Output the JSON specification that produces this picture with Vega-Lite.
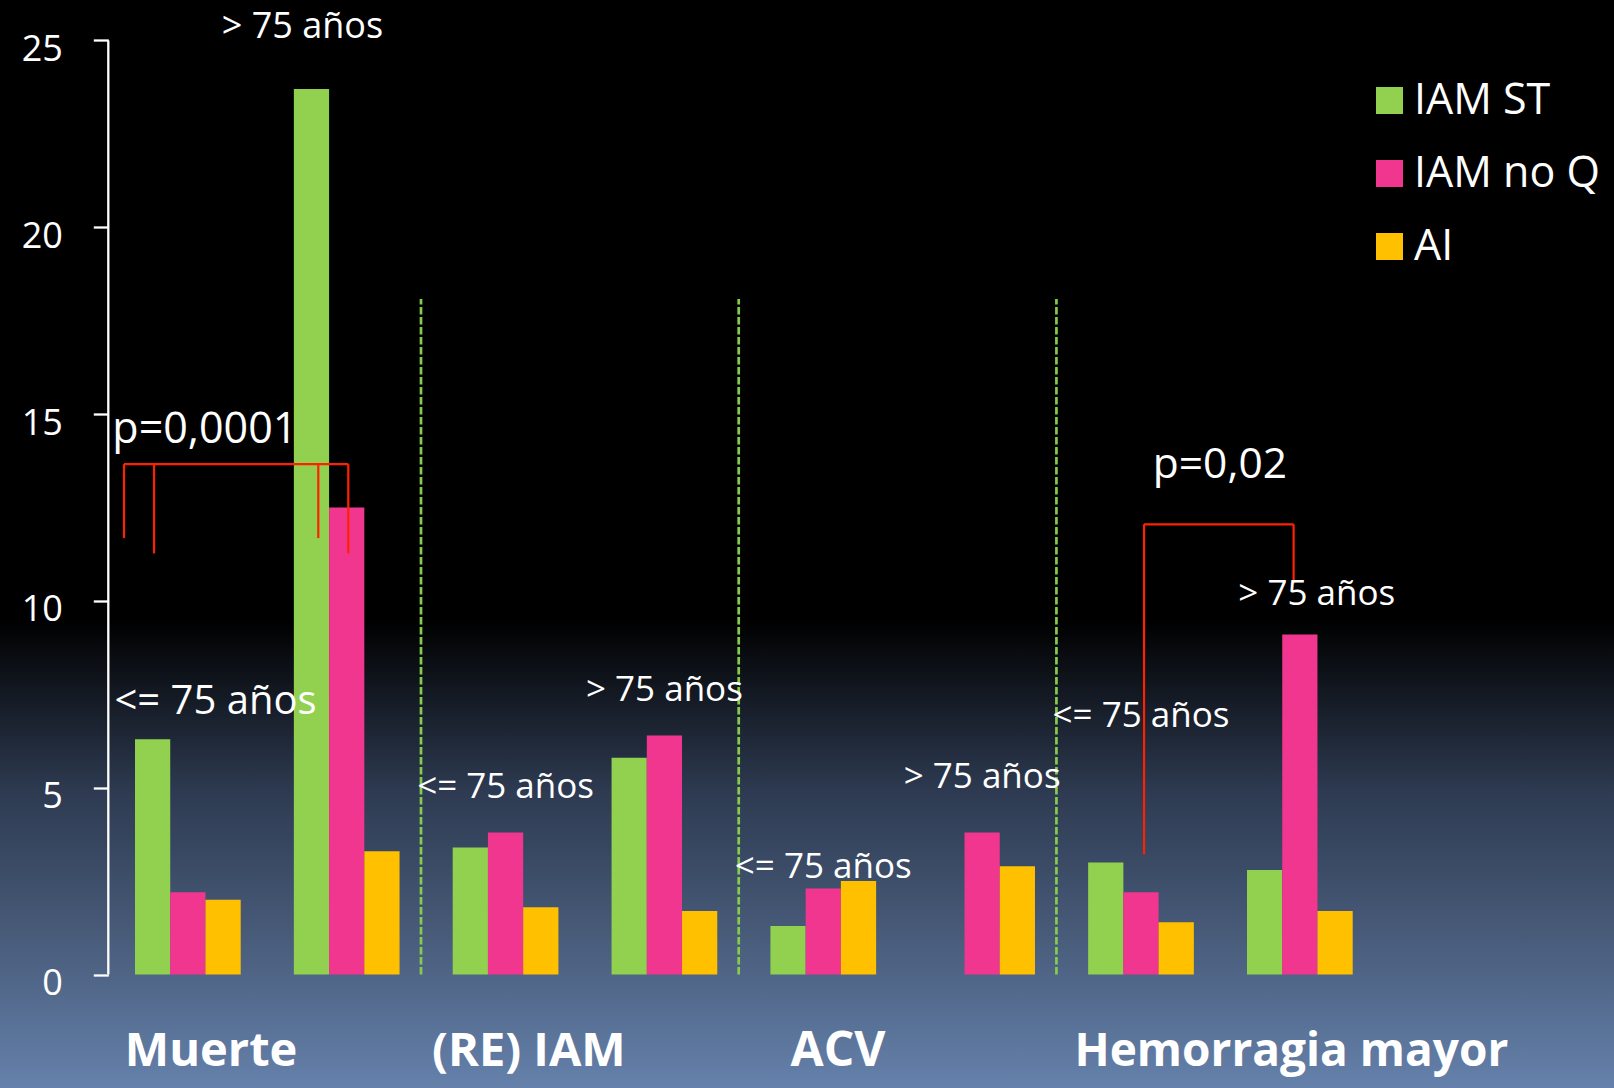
{
  "$schema": "https://vega.github.io/schema/vega-lite/v6.json",
  "width": 1614,
  "height": 1088,
  "autosize": {"type": "none"},
  "padding": 0,
  "background": "#000000",
  "config": {
    "view": {"stroke": null},
    "axisX": {"disable": true},
    "text": {"font": "Open Sans", "color": "#FFFFFF", "baseline": "alphabetic"}
  },
  "datasets": {
    "barras": [
      {"grupo": "Muerte ≤75", "serie": "IAM ST", "valor": 6.3},
      {"grupo": "Muerte ≤75", "serie": "IAM no Q", "valor": 2.2},
      {"grupo": "Muerte ≤75", "serie": "AI", "valor": 2.0},
      {"grupo": "Muerte >75", "serie": "IAM ST", "valor": 23.7},
      {"grupo": "Muerte >75", "serie": "IAM no Q", "valor": 12.5},
      {"grupo": "Muerte >75", "serie": "AI", "valor": 3.3},
      {"grupo": "(RE) IAM ≤75", "serie": "IAM ST", "valor": 3.4},
      {"grupo": "(RE) IAM ≤75", "serie": "IAM no Q", "valor": 3.8},
      {"grupo": "(RE) IAM ≤75", "serie": "AI", "valor": 1.8},
      {"grupo": "(RE) IAM >75", "serie": "IAM ST", "valor": 5.8},
      {"grupo": "(RE) IAM >75", "serie": "IAM no Q", "valor": 6.4},
      {"grupo": "(RE) IAM >75", "serie": "AI", "valor": 1.7},
      {"grupo": "ACV ≤75", "serie": "IAM ST", "valor": 1.3},
      {"grupo": "ACV ≤75", "serie": "IAM no Q", "valor": 2.3},
      {"grupo": "ACV ≤75", "serie": "AI", "valor": 2.5},
      {"grupo": "ACV >75", "serie": "IAM no Q", "valor": 3.8},
      {"grupo": "ACV >75", "serie": "AI", "valor": 2.9},
      {"grupo": "Hemorragia ≤75", "serie": "IAM ST", "valor": 3.0},
      {"grupo": "Hemorragia ≤75", "serie": "IAM no Q", "valor": 2.2},
      {"grupo": "Hemorragia ≤75", "serie": "AI", "valor": 1.4},
      {"grupo": "Hemorragia >75", "serie": "IAM ST", "valor": 2.8},
      {"grupo": "Hemorragia >75", "serie": "IAM no Q", "valor": 9.1},
      {"grupo": "Hemorragia >75", "serie": "AI", "valor": 1.7}
    ],
    "anotaciones": [
      {"grupo": "Muerte ≤75", "texto": "<= 75 años", "nivel": 6.98},
      {"grupo": "Muerte >75", "texto": ">  75 años", "nivel": 25.08},
      {"grupo": "(RE) IAM ≤75", "texto": "<= 75 años", "nivel": 4.72},
      {"grupo": "(RE) IAM >75", "texto": "> 75 años", "nivel": 7.32},
      {"grupo": "ACV ≤75", "texto": "<= 75 años", "nivel": 2.57},
      {"grupo": "ACV >75", "texto": "> 75 años", "nivel": 4.98},
      {"grupo": "Hemorragia ≤75", "texto": "<= 75 años", "nivel": 6.63},
      {"grupo": "Hemorragia >75", "texto": "> 75 años", "nivel": 9.88}
    ],
    "pvalores": [
      {"grupo": "Muerte ≤75", "texto": "p=0,0001", "nivel": 14.23},
      {"grupo": "Hemorragia ≤75", "texto": "p=0,02", "nivel": 13.29}
    ],
    "separadores": [
      {"grupo": "(RE) IAM ≤75"},
      {"grupo": "ACV ≤75"},
      {"grupo": "Hemorragia ≤75"}
    ],
    "categorias": [
      {"grupo": "Muerte ≤75", "texto": "Muerte"},
      {"grupo": "(RE) IAM ≤75", "texto": "(RE) IAM"},
      {"grupo": "ACV ≤75", "texto": "ACV"},
      {"grupo": "Hemorragia >75", "texto": "Hemorragia mayor"}
    ]
  },
  "layer": [
    {
      "data": {"values": [{}]},
      "mark": {
        "type": "rect",
        "fill": {
          "gradient": "linear",
          "x1": 0, "y1": 0, "x2": 0, "y2": 1,
          "stops": [
            {"offset": 0, "color": "#000000"},
            {"offset": 0.57, "color": "#000000"},
            {"offset": 0.73, "color": "#2E3B52"},
            {"offset": 0.855, "color": "#475A78"},
            {"offset": 1, "color": "#6581AB"}
          ]
        }
      },
      "encoding": {}
    },
    {
      "data": {"name": "barras"},
      "mark": {"type": "bar"},
      "encoding": {
        "x": {
          "field": "grupo",
          "type": "nominal",
          "title": null,
          "scale": {
            "domain": ["Muerte ≤75", "Muerte >75", "(RE) IAM ≤75", "(RE) IAM >75", "ACV ≤75", "ACV >75", "Hemorragia ≤75", "Hemorragia >75"],
            "range": [135, 1352.7],
            "paddingInner": 0.3346,
            "paddingOuter": 0,
            "round": false
          }
        },
        "xOffset": {
          "field": "serie",
          "type": "nominal",
          "scale": {"domain": ["IAM ST", "IAM no Q", "AI"]}
        },
        "y": {
          "field": "valor",
          "type": "quantitative",
          "title": null,
          "scale": {"domain": [-3.038, 26.084], "nice": false, "zero": false},
          "axis": {
            "values": [0, 5, 10, 15, 20, 25],
            "domain": false,
            "grid": false,
            "ticks": true,
            "tickSize": 15,
            "tickWidth": 2.3,
            "tickColor": "#FFFFFF",
            "labelColor": "#FFFFFF",
            "labelFont": "Open Sans",
            "labelFontSize": 36,
            "labelPadding": 31,
            "labelOffset": 9,
            "offset": -108.3,
            "zindex": 2,
            "title": null
          }
        },
        "color": {
          "field": "serie",
          "type": "nominal",
          "scale": {"domain": ["IAM ST", "IAM no Q", "AI"], "range": ["#92D050", "#F0368E", "#FFC000"]},
          "legend": {
            "title": null,
            "orient": "none",
            "legendX": 1368,
            "legendY": 79,
            "padding": 0,
            "symbolType": "square",
            "symbolSize": 729,
            "symbolStrokeWidth": 0,
            "symbolOpacity": 1,
            "labelFont": "Open Sans",
            "labelFontSize": 43,
            "labelColor": "#FFFFFF",
            "labelOffset": 3,
            "rowPadding": 29,
            "labelLimit": 400
          }
        }
      }
    },
    {
      "data": {"name": "separadores"},
      "mark": {"type": "rule", "color": "#86CB4B", "strokeWidth": 2.7, "strokeDash": [7.5, 2.5]},
      "encoding": {
        "x": {"field": "grupo", "type": "nominal", "bandPosition": -0.3, "title": null},
        "y": {"datum": 0},
        "y2": {"datum": 18.08}
      }
    },
    {
      "data": {"values": [{}]},
      "mark": {"type": "rule", "color": "#FFFFFF", "strokeWidth": 2.3},
      "encoding": {
        "x": {"datum": "Muerte ≤75", "type": "nominal", "bandPosition": -0.2526},
        "y": {"datum": 0},
        "y2": {"datum": 25}
      }
    },
    {
      "data": {"values": [{}]},
      "mark": {"type": "rule", "color": "#FF2200", "strokeWidth": 2.2},
      "encoding": {
        "x": {"datum": "Muerte ≤75", "type": "nominal", "bandPosition": -0.104},
        "x2": {"datum": "Muerte >75", "bandPosition": 0.515},
        "y": {"datum": 13.66}
      }
    },
    {
      "data": {"values": [{}]},
      "mark": {"type": "rule", "color": "#FF2200", "strokeWidth": 2.2},
      "encoding": {
        "x": {"datum": "Muerte ≤75", "type": "nominal", "bandPosition": -0.104},
        "y": {"datum": 13.66},
        "y2": {"datum": 11.68}
      }
    },
    {
      "data": {"values": [{}]},
      "mark": {"type": "rule", "color": "#FF2200", "strokeWidth": 2.2},
      "encoding": {
        "x": {"datum": "Muerte ≤75", "type": "nominal", "bandPosition": 0.18},
        "y": {"datum": 13.66},
        "y2": {"datum": 11.27}
      }
    },
    {
      "data": {"values": [{}]},
      "mark": {"type": "rule", "color": "#FF2200", "strokeWidth": 2.2},
      "encoding": {
        "x": {"datum": "Muerte >75", "type": "nominal", "bandPosition": 0.231},
        "y": {"datum": 13.66},
        "y2": {"datum": 11.68}
      }
    },
    {
      "data": {"values": [{}]},
      "mark": {"type": "rule", "color": "#FF2200", "strokeWidth": 2.2},
      "encoding": {
        "x": {"datum": "Muerte >75", "type": "nominal", "bandPosition": 0.515},
        "y": {"datum": 13.66},
        "y2": {"datum": 11.27}
      }
    },
    {
      "data": {"values": [{}]},
      "mark": {"type": "rule", "color": "#FF2200", "strokeWidth": 2.2},
      "encoding": {
        "x": {"datum": "Hemorragia ≤75", "type": "nominal", "bandPosition": 0.529},
        "x2": {"datum": "Hemorragia >75", "bandPosition": 0.441},
        "y": {"datum": 12.05}
      }
    },
    {
      "data": {"values": [{}]},
      "mark": {"type": "rule", "color": "#FF2200", "strokeWidth": 2.2},
      "encoding": {
        "x": {"datum": "Hemorragia ≤75", "type": "nominal", "bandPosition": 0.529},
        "y": {"datum": 12.05},
        "y2": {"datum": 3.22}
      }
    },
    {
      "data": {"values": [{}]},
      "mark": {"type": "rule", "color": "#FF2200", "strokeWidth": 2.2},
      "encoding": {
        "x": {"datum": "Hemorragia >75", "type": "nominal", "bandPosition": 0.441},
        "y": {"datum": 12.05},
        "y2": {"datum": 10.47}
      }
    },
    {
      "data": {"name": "anotaciones"},
      "transform": [{"filter": {"field": "grupo", "oneOf": ["(RE) IAM ≤75", "(RE) IAM >75", "ACV ≤75", "ACV >75", "Hemorragia ≤75"]}}],
      "mark": {"type": "text", "align": "center", "fontSize": 35},
      "encoding": {
        "x": {"field": "grupo", "type": "nominal", "title": null},
        "y": {"field": "nivel", "type": "quantitative", "title": null},
        "text": {"field": "texto"}
      }
    },
    {
      "data": {"name": "anotaciones"},
      "transform": [{"filter": {"field": "grupo", "equal": "Muerte ≤75"}}],
      "mark": {"type": "text", "align": "center", "fontSize": 40, "dx": 27.7},
      "encoding": {
        "x": {"field": "grupo", "type": "nominal", "title": null},
        "y": {"field": "nivel", "type": "quantitative", "title": null},
        "text": {"field": "texto"}
      }
    },
    {
      "data": {"name": "anotaciones"},
      "transform": [{"filter": {"field": "grupo", "equal": "Muerte >75"}}],
      "mark": {"type": "text", "align": "center", "fontSize": 36, "dx": -44.2},
      "encoding": {
        "x": {"field": "grupo", "type": "nominal", "title": null},
        "y": {"field": "nivel", "type": "quantitative", "title": null},
        "text": {"field": "texto"}
      }
    },
    {
      "data": {"name": "anotaciones"},
      "transform": [{"filter": {"field": "grupo", "equal": "Hemorragia >75"}}],
      "mark": {"type": "text", "align": "center", "fontSize": 35, "dx": 16.9},
      "encoding": {
        "x": {"field": "grupo", "type": "nominal", "title": null},
        "y": {"field": "nivel", "type": "quantitative", "title": null},
        "text": {"field": "texto"}
      }
    },
    {
      "data": {"name": "pvalores"},
      "transform": [{"filter": {"field": "grupo", "equal": "Muerte ≤75"}}],
      "mark": {"type": "text", "align": "center", "fontSize": 43, "dx": 17},
      "encoding": {
        "x": {"field": "grupo", "type": "nominal", "title": null},
        "y": {"field": "nivel", "type": "quantitative", "title": null},
        "text": {"field": "texto"}
      }
    },
    {
      "data": {"name": "pvalores"},
      "transform": [{"filter": {"field": "grupo", "equal": "Hemorragia ≤75"}}],
      "mark": {"type": "text", "align": "center", "fontSize": 42.5, "dx": 78.9},
      "encoding": {
        "x": {"field": "grupo", "type": "nominal", "title": null},
        "y": {"field": "nivel", "type": "quantitative", "title": null},
        "text": {"field": "texto"}
      }
    },
    {
      "data": {"name": "categorias"},
      "transform": [{"filter": {"field": "grupo", "oneOf": ["Muerte ≤75", "(RE) IAM ≤75"]}}],
      "mark": {"type": "text", "align": "center", "fontSize": 47, "fontWeight": "bold"},
      "encoding": {
        "x": {"field": "grupo", "type": "nominal", "bandPosition": 0.72, "title": null},
        "y": {"datum": -2.46},
        "text": {"field": "texto"}
      }
    },
    {
      "data": {"name": "categorias"},
      "transform": [{"filter": {"field": "grupo", "equal": "ACV ≤75"}}],
      "mark": {"type": "text", "align": "center", "fontSize": 48, "fontWeight": "bold"},
      "encoding": {
        "x": {"field": "grupo", "type": "nominal", "bandPosition": 0.64, "title": null},
        "y": {"datum": -2.46},
        "text": {"field": "texto"}
      }
    },
    {
      "data": {"name": "categorias"},
      "transform": [{"filter": {"field": "grupo", "equal": "Hemorragia >75"}}],
      "mark": {"type": "text", "align": "center", "fontSize": 46, "fontWeight": "bold"},
      "encoding": {
        "x": {"field": "grupo", "type": "nominal", "bandPosition": 0.42, "title": null},
        "y": {"datum": -2.46},
        "text": {"field": "texto"}
      }
    }
  ]
}
